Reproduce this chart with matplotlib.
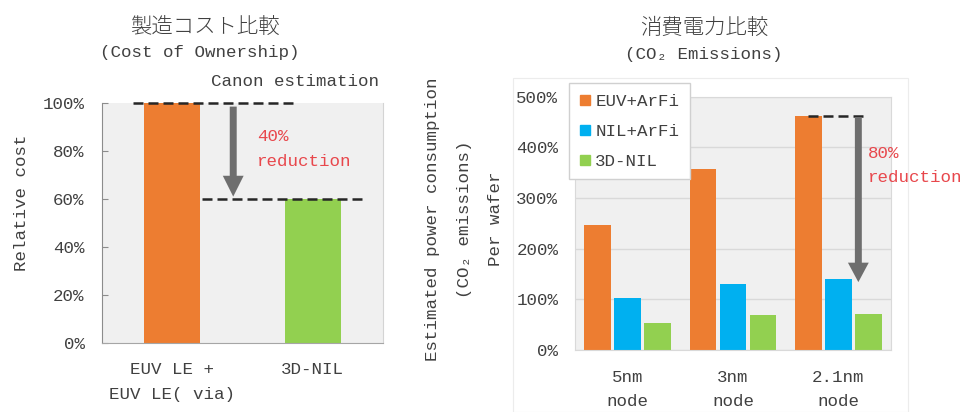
import matplotlib
matplotlib.use("Agg")
import matplotlib.pyplot as plt
from matplotlib.lines import Line2D
from matplotlib.patches import Rectangle

plt.rcParams["font.family"] = ["Liberation Mono", "DejaVu Sans Mono", "Noto Sans CJK JP"]

# cost of ownership (relative, %)
cost_labels = ["EUV LE +\nEUV LE( via)", "3D-NIL"]
cost_values = [100, 60]

# power consumption per wafer (%)
nodes = ["5nm\nnode", "3nm\nnode", "2.1nm\nnode"]
euv_arfi = [247, 357, 462]
nil_arfi = [103, 130, 140]
nil_3d = [53, 69, 71]
series_names = ["EUV+ArFi", "NIL+ArFi", "3D-NIL"]

ORANGE = "#ed7d31"
BLUE = "#00b0f0"
GREEN = "#92d050"
TEXT = "#404040"
RED = "#e8474c"
ARROW = "#6e6e6e"
FS = 12.6

W, H = 965, 412


def fx(x):
    return x / W


def fy(y):
    return 1 - y / H


fig = plt.figure(figsize=(W / 100, H / 100), dpi=100)

# ---- left: cost comparison ----
ax1 = fig.add_axes([fx(102), fy(343), (383 - 102) / W, (343 - 103) / H])
ax1.set_facecolor("#f0f0f0")
ax1.bar([0, 1], cost_values, width=0.4, color=[ORANGE, GREEN], zorder=2)
ax1.set_xlim(-0.5, 1.5)
ax1.set_ylim(0, 100)
ax1.set_yticks(range(0, 101, 20), [f"{v}%" for v in range(0, 101, 20)])
ax1.set_xticks([0, 1], cost_labels, linespacing=1.78)
ax1.tick_params(axis="y", direction="in", length=4, color="#8c8c8c", pad=12.5,
                labelsize=FS, labelcolor=TEXT)
ax1.tick_params(axis="x", length=0, pad=14, labelsize=FS, labelcolor=TEXT)
ax1.spines["left"].set_color("#8c8c8c")
ax1.spines["bottom"].set_color("#a6a6a6")
ax1.spines["right"].set_color("#d4d4d4")
ax1.spines["top"].set_visible(False)

ax1.plot([-0.28, 0.86], [cost_values[0]] * 2, color="#262626", lw=1.8,
         ls=(0, (4, 2)), zorder=3, clip_on=False)
ax1.plot([0.21, 1.35], [cost_values[1]] * 2, color="#262626", lw=1.8,
         ls=(0, (4, 2)), zorder=3, clip_on=False)
ax1.annotate("", xy=(0.434, cost_values[1] + 1), xytext=(0.434, cost_values[0] - 1.5),
             arrowprops=dict(facecolor=ARROW, edgecolor="none", width=5,
                             headwidth=15, headlength=15, shrink=0), zorder=4)
ax1.text(0.605, 80.8, "40%\nreduction", color=RED, fontsize=FS, ha="left",
         va="center", linespacing=1.8)

fig.text(fx(22), fy(203), "Relative cost", rotation=90, ha="center", va="center",
         fontsize=FS, color=TEXT)
fig.text(fx(295), fy(82), "Canon estimation", ha="center", va="center",
         fontsize=FS, color=TEXT)
fig.text(fx(205), fy(27), "製造コスト比較", ha="center", va="center",
         family=["Noto Sans CJK JP"], fontsize=15.4, fontweight="light", color=TEXT)
fig.text(fx(200), fy(53), "(Cost of Ownership)", ha="center", va="center",
         fontsize=FS, color=TEXT)

# ---- right: power consumption ----
fig.add_artist(Rectangle((fx(513), 0), (908 - 513) / W, (412 - 78) / H,
                         transform=fig.transFigure, fill=False,
                         edgecolor="#ececec", lw=0.8))

ax2 = fig.add_axes([fx(575), fy(350), (891 - 575) / W, (350 - 96.7) / H])
ax2.set_facecolor("#f0f0f0")
x = list(range(len(nodes)))
offsets = [-0.285, 0, 0.285]
colors = [ORANGE, BLUE, GREEN]
for vals, off, c in zip([euv_arfi, nil_arfi, nil_3d], offsets, colors):
    ax2.bar([i + off for i in x], vals, width=0.255, color=c, zorder=2)
ax2.set_xlim(-0.5, 2.5)
ax2.set_ylim(0, 500)
ax2.set_yticks(range(0, 501, 100), [f"{v}%" for v in range(0, 501, 100)])
ax2.set_xticks(x, nodes, linespacing=1.78)
ax2.yaxis.grid(True, color="#d9d9d9", lw=1, zorder=1)
ax2.set_axisbelow(True)
ax2.tick_params(axis="y", length=0, pad=12, labelsize=FS, labelcolor=TEXT)
ax2.tick_params(axis="x", length=0, pad=14.5, labelsize=FS, labelcolor=TEXT)
for s in ax2.spines.values():
    s.set_color("#d9d9d9")

ax2.plot([2 - 0.285, 2.24], [euv_arfi[2]] * 2, color="#262626", lw=1.8,
         ls=(0, (4, 2)), zorder=3, clip_on=False)
ax2.annotate("", xy=(2.19, 134), xytext=(2.19, euv_arfi[2] - 2),
             arrowprops=dict(facecolor=ARROW, edgecolor="none", width=5,
                             headwidth=15, headlength=14, shrink=0), zorder=4)
fig.text(fx(868), fy(165.5), "80%\nreduction", color=RED, fontsize=FS, ha="left",
         va="center", linespacing=1.8)

handles = [Line2D([], [], marker="s", linestyle="none", color=c, markersize=7.2)
           for c in colors]
leg = ax2.legend(handles, series_names, loc="upper left",
                 bbox_to_anchor=(fx(569), fy(83)), bbox_transform=fig.transFigure,
                 borderaxespad=0, fontsize=FS, frameon=True, fancybox=False,
                 edgecolor="#d0d0d0", facecolor="white", framealpha=1,
                 borderpad=0.6, handlelength=0.6, handletextpad=0.3,
                 labelspacing=0.84)
for t in leg.get_texts():
    t.set_color(TEXT)

for xp, line in [(433, "Estimated power consumption"),
                 (465, "(CO₂ emissions)"),
                 (495, "Per wafer")]:
    fig.text(fx(xp), fy(219), line, rotation=90, ha="center", va="center",
             fontsize=FS, color=TEXT)

fig.text(fx(704), fy(28), "消費電力比較", ha="center", va="center",
         family=["Noto Sans CJK JP"], fontsize=15.4, fontweight="light", color=TEXT)
fig.text(fx(704), fy(55), "(CO₂ Emissions)", ha="center", va="center",
         fontsize=FS, color=TEXT)

fig.savefig("out.png", dpi=100)
